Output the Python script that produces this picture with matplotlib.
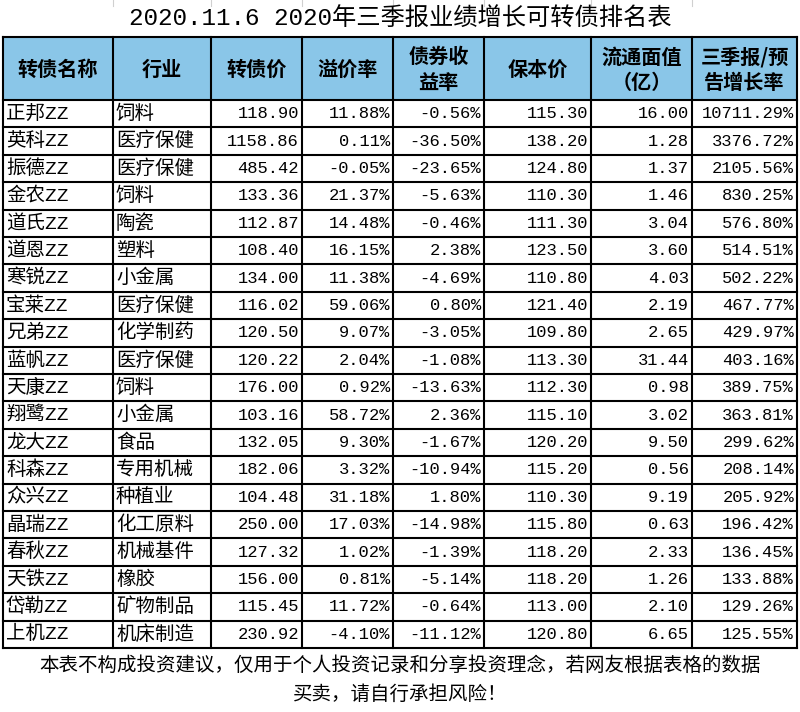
import matplotlib.pyplot as plt
from matplotlib.patches import Rectangle

plt.rcParams['font.family'] = ['Noto Sans CJK SC', 'DejaVu Sans']
MONO = ['Liberation Mono', 'Noto Sans CJK SC']

title = "2020.11.6 2020年三季报业绩增长可转债排名表"
headers = ["转债名称", "行业", "转债价", "溢价率", "债券收\n益率", "保本价", "流通面值\n（亿）", "三季报/预\n告增长率"]

names = ["正邦ZZ", "英科ZZ", "振德ZZ", "金农ZZ", "道氏ZZ", "道恩ZZ", "寒锐ZZ", "宝莱ZZ", "兄弟ZZ", "蓝帆ZZ",
         "天康ZZ", "翔鹭ZZ", "龙大ZZ", "科森ZZ", "众兴ZZ", "晶瑞ZZ", "春秋ZZ", "天铁ZZ", "岱勒ZZ", "上机ZZ"]
industries = ["饲料", "医疗保健", "医疗保健", "饲料", "陶瓷", "塑料", "小金属", "医疗保健", "化学制药", "医疗保健",
              "饲料", "小金属", "食品", "专用机械", "种植业", "化工原料", "机械基件", "橡胶", "矿物制品", "机床制造"]
price = [118.90, 1158.86, 485.42, 133.36, 112.87, 108.40, 134.00, 116.02, 120.50, 120.22,
         176.00, 103.16, 132.05, 182.06, 104.48, 250.00, 127.32, 156.00, 115.45, 230.92]
premium = [11.88, 0.11, -0.05, 21.37, 14.48, 16.15, 11.38, 59.06, 9.07, 2.04,
           0.92, 58.72, 9.30, 3.32, 31.18, 17.03, 1.02, 0.81, 11.72, -4.10]
ytm = [-0.56, -36.50, -23.65, -5.63, -0.46, 2.38, -4.69, 0.80, -3.05, -1.08,
       -13.63, 2.36, -1.67, -10.94, 1.80, -14.98, -1.39, -5.14, -0.64, -11.12]
breakeven = [115.30, 138.20, 124.80, 110.30, 111.30, 123.50, 110.80, 121.40, 109.80, 113.30,
             112.30, 115.10, 120.20, 115.20, 110.30, 115.80, 118.20, 118.20, 113.00, 120.80]
float_amt = [16.00, 1.28, 1.37, 1.46, 3.04, 3.60, 4.03, 2.19, 2.65, 31.44,
             0.98, 3.02, 9.50, 0.56, 9.19, 0.63, 2.33, 1.26, 2.10, 6.65]
growth = [10711.29, 3376.72, 2105.56, 830.25, 576.80, 514.51, 502.22, 467.77, 429.97, 403.16,
          389.75, 363.81, 299.62, 208.14, 205.92, 196.42, 136.45, 133.88, 129.26, 125.55]
footer = "本表不构成投资建议，仅用于个人投资记录和分享投资理念，若网友根据表格的数据\n买卖，请自行承担风险！"

# column edges in pixels
xs = [3, 113, 211, 302, 393, 484, 591, 692, 797]
head_top, head_bot = 37, 100
row_h = 27.4

fig = plt.figure(figsize=(8, 7.12), dpi=100)
ax = fig.add_axes([0, 0, 1, 1])
ax.set_xlim(0, 800)
ax.set_ylim(712, 0)
ax.axis('off')

# faint spreadsheet gridlines above the title
for x in xs[1:-1]:
    ax.plot([x, x], [0, 6], color='#d0d0d0', lw=0.8)

ax.text(400, 19, title, ha='center', va='center', fontsize=17.5, family=MONO)

# header
ax.add_patch(Rectangle((xs[0], head_top), xs[-1] - xs[0], head_bot - head_top,
                       facecolor='#8ac6e8', edgecolor='none'))
for i, h in enumerate(headers):
    ax.text((xs[i] + xs[i + 1]) / 2, (head_top + head_bot) / 2 + 1, h, ha='center', va='center',
            fontsize=14.5, fontweight='bold', linespacing=1.25)

cols = [names, industries,
        ["%.2f" % v for v in price],
        ["%.2f%%" % v for v in premium],
        ["%.2f%%" % v for v in ytm],
        ["%.2f" % v for v in breakeven],
        ["%.2f" % v for v in float_amt],
        ["%.2f%%" % v for v in growth]]

for r in range(len(names)):
    yc = head_bot + (r + 0.5) * row_h
    for c, col in enumerate(cols):
        if c < 2:
            ax.text(xs[c] + 3, yc, col[r], ha='left', va='center', fontsize=14, family=MONO)
        else:
            ax.text(xs[c + 1] - 3, yc, col[r], ha='right', va='center', fontsize=12.3, family=MONO)

table_bot = head_bot + len(names) * row_h

# grid lines
for x in xs:
    ax.plot([x, x], [head_top, table_bot], color='black', lw=1.5)
ax.plot([xs[0], xs[-1]], [head_top, head_top], color='black', lw=1.5)
for r in range(len(names) + 1):
    y = head_bot + r * row_h
    ax.plot([xs[0], xs[-1]], [y, y], color='black', lw=1.5)

ax.text(400, 680, footer, ha='center', va='center', fontsize=14, linespacing=1.45)

fig.savefig('out.png', dpi=100)
